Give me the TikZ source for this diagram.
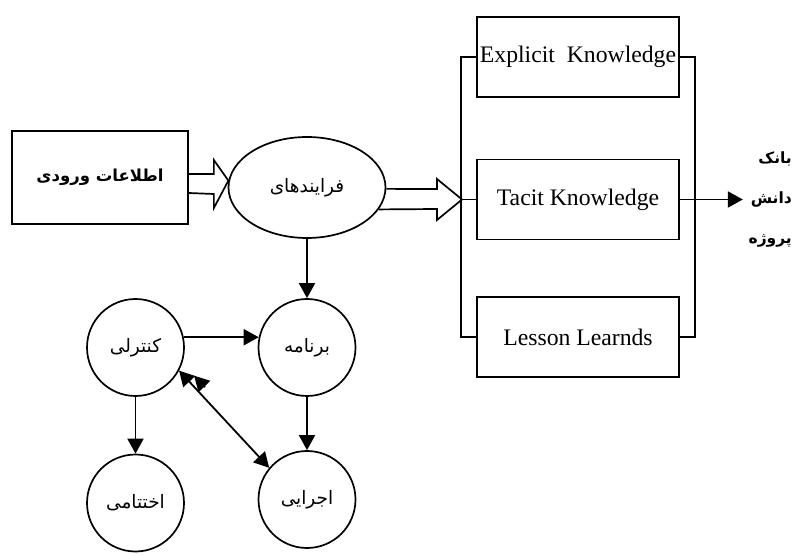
\documentclass[tikz,border=0pt]{standalone}
\usepackage{fontspec}
\setmainfont{Liberation Serif}
\newfontfamily\fa[Script=Arabic]{DejaVu Sans}
\TeXXeTstate=1
\usetikzlibrary{arrows.meta,calc,shapes.geometric}
\tikzstyle{block} = [rectangle, draw, line width=1.7pt, minimum width=202pt,
    minimum height=80pt, inner sep=0pt, font=\fontsize{23.7}{28}\selectfont]
\tikzstyle{inbox} = [rectangle, draw, line width=1.7pt, minimum width=176pt,
    minimum height=93pt, font=\fa\bfseries\fontsize{16.5}{22}\selectfont]
\tikzstyle{proc} = [ellipse, draw, line width=1.7pt, minimum width=157pt,
    minimum height=101pt, inner sep=0pt, font=\fa\fontsize{18.5}{22}\selectfont]
\tikzstyle{circ} = [circle, draw, line width=1.7pt, minimum size=97pt,
    inner sep=0pt, font=\fa\fontsize{18.5}{22}\selectfont]
\tikzstyle{line} = [draw, line width=1.8pt, -{Triangle[length=15pt,width=16pt]}]
\tikzstyle{hollow} = [draw, line width=1.7pt, line join=miter]
\begin{document}
\begin{tikzpicture}[x=1pt,y=1pt]
    \useasboundingbox (0,0) rectangle (797,554);

    \node [inbox] (inp) at (100,376.5) {\beginR اطلاعات ورودی\endR};
    \node [circ] (ctrl) at (135.5,206.5) {\beginR کنترلی\endR};
    \node [circ, right of=ctrl, node distance=171.5pt] (prog) {\beginR برنامه\endR};
    \node [circ, below of=prog, node distance=152pt] (exec) {\beginR اجرایی\endR};
    \node [circ, below of=ctrl, node distance=155.5pt] (fin) {\beginR اختتامی\endR};
    \node [proc, above of=prog, node distance=160pt] (proc) {\beginR فرایندهای\endR};

    \node [block] (explicit) at (578,497) {Explicit\ \ Knowledge};
    \node [block, below of=explicit, node distance=142.5pt] (tacit) {Tacit Knowledge};
    \node [block, below of=tacit, node distance=137.5pt] (lesson) {Lesson Learnds};
    \node [anchor=east, align=right, inner sep=0pt, font=\fa\bfseries\fontsize{15.5}{40}\selectfont]
        (bank) at (792,354) {\beginR بانک\endR\\\beginR دانش\endR\\\beginR پروژه\endR};
    \coordinate (bankin) at ($(tacit.east)+(63,0)$);

    % hollow arrows
    \path [hollow] ($(inp.east)+(0,3.5)$) -- ++(25,0) -- ++(0,14) -- (proc.175)
        -- ($(inp.east)+(25,-30.5)$) -- ++(0,14) -- ($(inp.east)+(0,-15.5)$);
    \path [hollow] (proc.-1) -- (437,365) -- (437,375) -- (tacit.west -| 462,0)
        -- (437,334) -- (437,345) -- (proc.-17);

    % brackets
    \draw [line width=1.7pt] (explicit.west) -- ++(-15,0) |- (lesson.west);
    \draw [line width=1.7pt] (tacit.west) -- ++(-15,0);
    \draw [line width=1.7pt] (explicit.east) -- ++(15,0) |- (lesson.east);

    % Draw edges
    \path [line] (tacit.east) -- (bankin);
    \path [line] (proc) -- (prog);
    \path [line] (ctrl.12) -- (prog.168);
    \path [line] (prog) -- (exec);
    \path [line] (ctrl) -- (fin);
    \path [line, {Triangle[length=15pt,width=16pt]}-{Triangle[length=15pt,width=16pt]}]
        (ctrl.-28) -- (exec.140);
    \path [line] ($(ctrl.-28)+(26,-16.5)$) -- ($(ctrl.-28)+(15,-5)$);

\end{tikzpicture}
\end{document}
